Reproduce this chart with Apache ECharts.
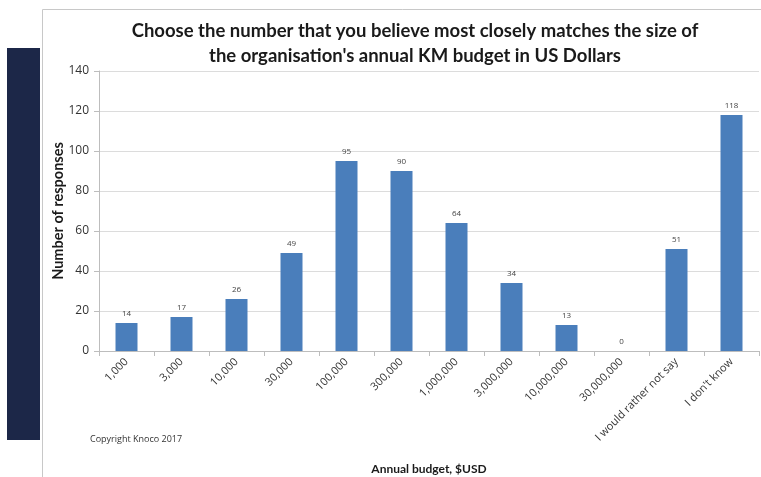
<!DOCTYPE html>
<html><head><meta charset="utf-8">
<script src="https://cdn.jsdelivr.net/npm/echarts@6/dist/echarts.min.js"></script>
<style>html,body{margin:0;padding:0;background:#fff}#c{width:761px;height:477px}</style>
</head><body><div id="c"></div>
<script>
const categories = ['1,000','3,000','10,000','30,000','100,000','300,000','1,000,000','3,000,000','10,000,000','30,000,000','I would rather not say',"I don't know"];
const responses = [14,17,26,49,95,90,64,34,13,0,51,118];
const yTicks = [0,20,40,60,80,100,120,140];

const chart = echarts.init(document.getElementById('c'));
chart.setOption({
  animation:false,
  textStyle:{fontFamily:'Open Sans'},
  graphic:[
    {type:'rect',shape:{x:42.5,y:9.5,width:740,height:500},style:{fill:'#fff',stroke:'#c8c8c8',lineWidth:1},z:-10},
    {type:'rect',shape:{x:7,y:48,width:33,height:392},style:{fill:'#1c2748'},z:10},
    {type:'text',left:90,top:435,style:{text:'Copyright Knoco 2017',fill:'#333',font:'9px "Open Sans"'}},
    {type:'text',x:58,y:211,rotation:Math.PI/2,
      style:{text:'Number of responses',fill:'#1a1a1a',font:'bold 14.5px Lato',align:'center',verticalAlign:'middle'}}
  ],
  title:{text:"Choose the number that you believe most closely matches the size of\nthe organisation's annual KM budget in US Dollars",
    left:410,top:14,textAlign:'center',
    textStyle:{fontFamily:'Lato',fontWeight:'bold',fontSize:18.5,lineHeight:25,color:'#1a1a1a'}},
  grid:{left:99,right:2,top:71,bottom:126,containLabel:false,outerBoundsMode:'none'},
  xAxis:{type:'category',data:categories,
    name:'Annual budget, $USD',nameLocation:'middle',nameGap:112,
    nameTextStyle:{fontFamily:'Lato',fontWeight:'bold',fontSize:12,color:'#1a1a1a'},
    axisLine:{lineStyle:{color:'#bdbdbd'}},
    axisTick:{show:true,alignWithLabel:false,length:5,lineStyle:{color:'#bdbdbd'}},
    axisLabel:{rotate:45,fontSize:11,color:'#333',margin:9,interval:0}},
  yAxis:{type:'value',min:0,max:140,interval:20,
    axisLine:{show:true,lineStyle:{color:'#bdbdbd'}},
    axisTick:{show:true,length:5,lineStyle:{color:'#bdbdbd'}},
    axisLabel:{fontSize:12,color:'#333',margin:10},
    splitLine:{lineStyle:{color:'#dcdcdc'}}},
  series:[{type:'bar',data:responses,barWidth:22,
    itemStyle:{color:'#4a7ebb'},
    label:{show:true,position:'top',fontSize:8,color:'#444',distance:5}}]
});
</script></body></html>
